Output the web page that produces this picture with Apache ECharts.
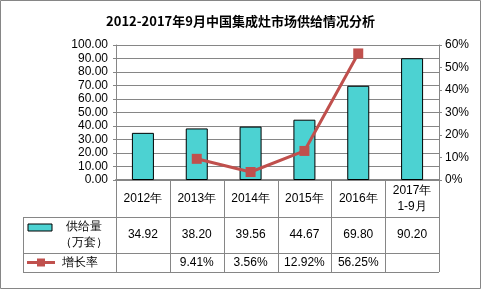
<!DOCTYPE html>
<html><head><meta charset="utf-8">
<script src="https://cdn.jsdelivr.net/npm/echarts@6/dist/echarts.min.js"></script>
<style>html,body{margin:0;padding:0;background:#fff}#c{width:481px;height:289px}</style>
</head><body><div id="c"></div>
<script>
var title = '2012-2017年9月中国集成灶市场供给情况分析';
var categories = ['2012年', '2013年', '2014年', '2015年', '2016年', '2017年\n1-9月'];
var supply = [34.92, 38.20, 39.56, 44.67, 69.80, 90.20];
var growth = [null, 9.41, 3.56, 12.92, 56.25, null];
var supplyName = '供给量\n（万套）';
var growthName = '增长率';
var leftTicks = [0, 100, 10];
var rightTicks = [0, 60, 10];

var FONT = '"Liberation Sans", Arial, sans-serif';
var GRID = {left: 116, right: 42, top: 45, bottom: 109};
var chart = echarts.init(document.getElementById('c'), null, {renderer: 'canvas'});
chart.setOption({
  animation: false,
  backgroundColor: '#fff',
  title: {text: title, left: 'center', top: 10,
    textStyle: {fontSize: 13, fontWeight: 'bold', color: '#000', fontFamily: '"Noto Sans CJK SC", sans-serif'}},
  grid: GRID,
  xAxis: {type: 'category', data: categories,
    axisLine: {lineStyle: {color: '#868686', width: 2}},
    axisTick: {show: false}, axisLabel: {show: false}},
  yAxis: [
    {type: 'value', min: leftTicks[0], max: leftTicks[1], interval: leftTicks[2],
      axisLine: {show: true, lineStyle: {color: '#868686'}},
      axisTick: {show: true, length: 3, lineStyle: {color: '#868686'}},
      axisLabel: {formatter: function (v) { return v.toFixed(2); }, color: '#000', fontSize: 12, fontFamily: FONT, margin: 8},
      splitLine: {lineStyle: {color: '#868686'}}},
    {type: 'value', min: rightTicks[0], max: rightTicks[1], interval: rightTicks[2],
      axisLine: {show: true, lineStyle: {color: '#868686'}},
      axisTick: {show: true, length: 3, lineStyle: {color: '#868686'}},
      axisLabel: {formatter: '{value}%', color: '#000', fontSize: 12, fontFamily: FONT, margin: 6},
      splitLine: {show: false}}
  ],
  series: [
    {type: 'bar', name: supplyName, data: supply, barWidth: 22, yAxisIndex: 0,
      itemStyle: {color: '#4CD2D2', borderColor: '#000', borderWidth: 1}},
    {type: 'line', name: growthName, data: growth, yAxisIndex: 1,
      symbol: 'rect', symbolSize: 10, connectNulls: false,
      lineStyle: {color: '#C0504D', width: 3}, itemStyle: {color: '#C0504D'}}
  ]
});

// Table below the chart, laid out from the axis scale
var c0 = chart.convertToPixel({xAxisIndex: 0}, 0);
var c1 = chart.convertToPixel({xAxisIndex: 0}, 1);
var band = c1 - c0;
var y0 = chart.convertToPixel({yAxisIndex: 0}, 0);
var n = categories.length;
var leftX = c0 - band / 2;
var rightX = leftX + band * n;
var legX = 23;
var rowH = [37, 36, 19];
var rowY = [y0, y0 + rowH[0], y0 + rowH[0] + rowH[1], y0 + rowH[0] + rowH[1] + rowH[2]];
var g = [];
var ls = {stroke: '#868686', lineWidth: 1};
function line(x1, y1, x2, y2) { g.push({type: 'line', shape: {x1: x1, y1: y1, x2: x2, y2: y2}, style: ls, z: 10}); }
function text(x, y, t) {
  g.push({type: 'text', x: x, y: y, style: {text: t, fill: '#000', font: '12px ' + FONT, align: 'center', verticalAlign: 'middle', lineHeight: 16}, z: 11});
}
for (var r = 1; r < 4; r++) line(legX, Math.round(rowY[r]) + 0.5, rightX, Math.round(rowY[r]) + 0.5);
line(legX + 0.5, rowY[1], legX + 0.5, rowY[3]);
for (var i = 0; i <= n; i++) {
  var x = Math.round(leftX + band * i) + 0.5;
  line(x, y0, x, rowY[3]);
}
for (var i = 0; i < n; i++) {
  var cx = leftX + band * (i + 0.5);
  text(cx, (rowY[0] + rowY[1]) / 2, categories[i]);
  text(cx, (rowY[1] + rowY[2]) / 2, supply[i].toFixed(2));
  if (growth[i] != null) text(cx, (rowY[2] + rowY[3]) / 2, growth[i].toFixed(2) + '%');
}
// legend keys
g.push({type: 'rect', shape: {x: 28, y: 224, width: 24, height: 7}, style: {fill: '#4CD2D2', stroke: '#000', lineWidth: 1}, z: 11});
text(84, (rowY[1] + rowY[2]) / 2, supplyName);
g.push({type: 'line', shape: {x1: 27, y1: (rowY[2] + rowY[3]) / 2, x2: 55, y2: (rowY[2] + rowY[3]) / 2}, style: {stroke: '#C0504D', lineWidth: 3}, z: 11});
g.push({type: 'rect', shape: {x: 37, y: (rowY[2] + rowY[3]) / 2 - 4, width: 8, height: 8}, style: {fill: '#C0504D'}, z: 12});
text(80, (rowY[2] + rowY[3]) / 2, growthName);
// outer border
g.push({type: 'rect', shape: {x: 0.5, y: 0.5, width: 480, height: 288}, style: {fill: null, stroke: '#868686', lineWidth: 1}, z: 1});
chart.setOption({graphic: g});
</script></body></html>
